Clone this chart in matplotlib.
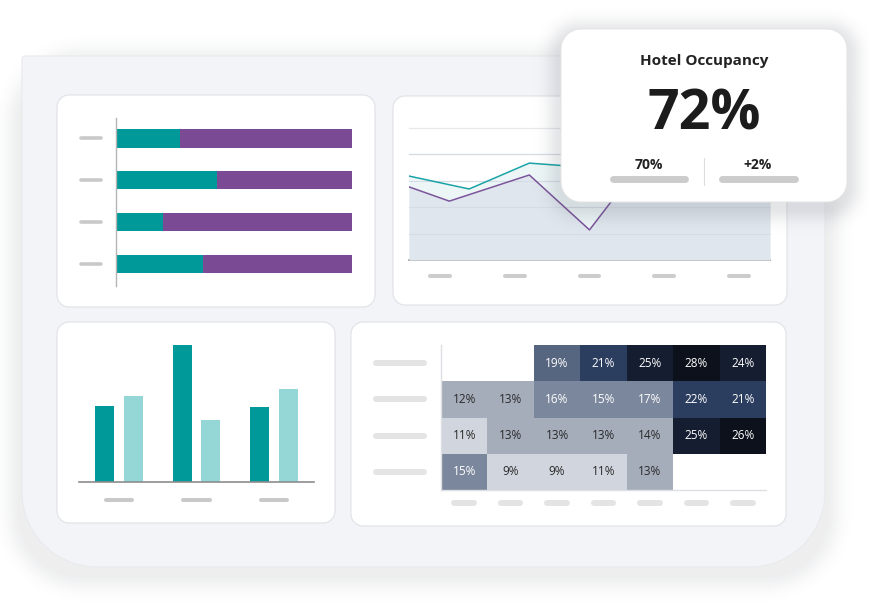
import numpy as np
import matplotlib
matplotlib.use("Agg")
import matplotlib.pyplot as plt
from matplotlib.patches import Polygon
from matplotlib.colors import ListedColormap, BoundaryNorm
from matplotlib.transforms import blended_transform_factory

plt.rcParams['font.family'] = ['Open Sans', 'DejaVu Sans']

# ---------------- data ----------------
hbar_rows = [0, 1, 2, 3]
hbar_teal = [27, 43, 20, 37]
hbar_purple = [73, 57, 80, 63]

line_teal_x = [0, 1, 2, 3, 4, 5, 6]
line_teal_y = [3.18, 2.69, 3.67, 3.5, 4.4, 4.0, 4.3]
line_purple_x = [0, 0.67, 2, 3, 4, 5, 6]
line_purple_y = [2.77, 2.23, 3.22, 1.14, 4.11, 3.6, 3.9]
line_grid_levels = [1, 2, 3, 4, 5]
line_tick_pos = [0.52, 1.76, 3.0, 4.24, 5.48]

col_groups = [0, 1, 2]
col_dark = [76, 137, 75]
col_light = [86, 62, 93]

heat_values = [
    [np.nan, np.nan, 19, 21, 25, 28, 24],
    [12, 13, 16, 15, 17, 22, 21],
    [11, 13, 13, 13, 14, 25, 26],
    [15, 9, 9, 11, 13, np.nan, np.nan],
]
heat_bounds = [0, 11.5, 14.5, 18, 20, 23.5, 25.5, 30]
heat_colors = ['#d1d5de', '#a5adbb', '#7b879c', '#576680', '#2c3e60', '#151d30', '#0d111b']

kpi_title = 'Hotel Occupancy'
kpi_value = '72%'
kpi_left = '70%'
kpi_right = '+2%'

# ---------------- styles ----------------
TEAL = '#009999'
PURPLE = '#7a4a94'
LTEAL = '#95d6d6'
W, H = 869, 610

fig = plt.figure(figsize=(W / 100, H / 100), dpi=100)
fig.patch.set_facecolor('white')


def px_axes(x0, y0, x1, y1, z):
    ax = fig.add_axes([x0 / W, 1 - y1 / H, (x1 - x0) / W, (y1 - y0) / H], zorder=z)
    ax.set_facecolor('none')
    return ax


def rr_points(x0, y0, x1, y1, rtl, rtr, rbr, rbl, n=24):
    pts = []
    def arc(cx, cy, r, t0, t1):
        t = np.linspace(t0, t1, n)
        return np.column_stack([cx + r * np.cos(t), cy + r * np.sin(t)])
    pts.append(arc(x0 + rtl, y0 + rtl, rtl, np.pi, 1.5 * np.pi))
    pts.append(arc(x1 - rtr, y0 + rtr, rtr, 1.5 * np.pi, 2 * np.pi))
    pts.append(arc(x1 - rbr, y1 - rbr, rbr, 0, 0.5 * np.pi))
    pts.append(arc(x0 + rbl, y1 - rbl, rbl, 0.5 * np.pi, np.pi))
    return np.vstack(pts)


def shadow_rgba(x0, y0, x1, y1, r, s, a, dy):
    X, Y = np.meshgrid(np.arange(W) + 0.5, np.arange(H) + 0.5)
    cx, cy = (x0 + x1) / 2, (y0 + y1) / 2 + dy
    hx, hy = (x1 - x0) / 2 - r, (y1 - y0) / 2 - r
    qx = np.abs(X - cx) - hx
    qy = np.abs(Y - cy) - hy
    d = np.hypot(np.maximum(qx, 0), np.maximum(qy, 0)) + np.minimum(np.maximum(qx, qy), 0) - r
    alpha = a * np.exp(-np.clip(d, 0, None) ** 2 / (2 * s ** 2))
    img = np.zeros((H, W, 4))
    img[..., 0] = 0.25
    img[..., 1] = 0.27
    img[..., 2] = 0.32
    img[..., 3] = alpha
    return img


# ---------------- background layer ----------------
bg = fig.add_axes([0, 0, 1, 1], zorder=0)
bg.set_xlim(0, W)
bg.set_ylim(H, 0)
bg.axis('off')

bg.imshow(shadow_rgba(22, 56, 825, 567, 60, 11, 0.09, 7), extent=(0, W, H, 0), zorder=0,
          interpolation='bilinear')
bg.add_patch(Polygon(rr_points(22, 56, 825, 567, 3, 3, 75, 75), closed=True,
                     facecolor='#f3f4f8', edgecolor='#e9eaee', lw=0.8, zorder=1))

panels = [(57, 95, 375, 307), (393, 96, 787, 305), (57, 322, 335, 523), (351, 322, 786, 526)]
for (x0, y0, x1, y1) in panels:
    bg.add_patch(Polygon(rr_points(x0, y0, x1, y1, 12, 12, 12, 12), closed=True,
                         facecolor='white', edgecolor='#e2e4e8', lw=0.9, zorder=2))

# ---------------- horizontal stacked bar ----------------
ax1 = px_axes(116, 118, 352, 286, 2)
ax1.barh(hbar_rows, hbar_teal, height=0.44, color=TEAL, edgecolor='none')
ax1.barh(hbar_rows, hbar_purple, left=hbar_teal, height=0.44, color=PURPLE, edgecolor='none')
ax1.set_xlim(0, 100)
ax1.set_ylim(3.53, -0.49)
for s in ['top', 'right', 'bottom']:
    ax1.spines[s].set_visible(False)
ax1.spines['left'].set_color('#b4b4b4')
ax1.spines['left'].set_linewidth(1.0)
ax1.set_xticks([])
ax1.set_yticks([])
for r in hbar_rows:
    ax1.plot([-15.0, -6.2], [r, r], color='#c9c9c9', lw=2.6, solid_capstyle='round', clip_on=False)

# ---------------- line chart ----------------
ax2 = px_axes(409, 128, 770, 260, 2)
ax2.set_xlim(0, 6)
ax2.set_ylim(0, 5)
for g in line_grid_levels:
    ax2.axhline(g, color='#e6e8ec', lw=0.9, zorder=1, clip_on=False)
ax2.fill_between(line_teal_x, 0, line_teal_y, color='#edf6f7', zorder=2, lw=0)
ax2.fill_between(line_purple_x, 0, line_purple_y, color='#e0e6ee', zorder=3, lw=0)
for g in line_grid_levels[:-1]:
    ax2.axhline(g, color='#d6dce5', lw=0.8, zorder=3.5)
ax2.plot(line_teal_x, line_teal_y, color='#1aa3a6', lw=1.1, zorder=4)
ax2.plot(line_purple_x, line_purple_y, color='#7b559b', lw=1.1, zorder=5)
for s in ['top', 'right', 'left']:
    ax2.spines[s].set_visible(False)
ax2.spines['bottom'].set_color('#9a9a9a')
ax2.spines['bottom'].set_linewidth(1.2)
ax2.set_xticks([])
ax2.set_yticks([])
tr2 = blended_transform_factory(ax2.transData, ax2.transAxes)
for p in line_tick_pos:
    ax2.plot([p - 0.166, p + 0.166], [-0.121, -0.121], transform=tr2, color='#cccccc',
             lw=2.9, solid_capstyle='round', clip_on=False)

# ---------------- column chart ----------------
ax3 = px_axes(79, 332, 314, 482, 2)
off = 0.187
bw = 0.245
ax3.bar([g - off for g in col_groups], col_dark, width=bw, color=TEAL, edgecolor='none')
ax3.bar([g + off for g in col_groups], col_light, width=bw, color=LTEAL, edgecolor='none')
ax3.set_xlim(-0.516, 2.516)
ax3.set_ylim(0, 150)
for s in ['top', 'right', 'left']:
    ax3.spines[s].set_visible(False)
ax3.spines['bottom'].set_color('#8c8c8c')
ax3.spines['bottom'].set_linewidth(1.2)
ax3.set_xticks([])
ax3.set_yticks([])
tr3 = blended_transform_factory(ax3.transData, ax3.transAxes)
for g in col_groups:
    ax3.plot([g - 0.168, g + 0.168], [-0.12, -0.12], transform=tr3, color='#c9c9c9',
             lw=2.9, solid_capstyle='round', clip_on=False)

# ---------------- heatmap ----------------
ax4 = px_axes(441, 345, 766, 490, 2)
arr = np.ma.masked_invalid(np.array(heat_values, dtype=float))
cmap = ListedColormap(heat_colors)
norm = BoundaryNorm(heat_bounds, cmap.N)
ax4.pcolormesh(np.arange(arr.shape[1] + 1), np.arange(arr.shape[0] + 1), arr,
               cmap=cmap, norm=norm, edgecolors='none')
ax4.set_xlim(0, arr.shape[1])
ax4.set_ylim(arr.shape[0], 0)
for i in range(arr.shape[0]):
    for j in range(arr.shape[1]):
        v = heat_values[i][j]
        if np.isnan(v):
            continue
        ax4.text(j + 0.5, i + 0.5, f'{v:.0f}%', ha='center', va='center', fontsize=8.5,
                 color='white' if v >= 15 else '#2a2a2a')
for s in ['top', 'right']:
    ax4.spines[s].set_visible(False)
for s in ['left', 'bottom']:
    ax4.spines[s].set_color('#dcdfe3')
    ax4.spines[s].set_linewidth(1.0)
ax4.set_xticks([])
ax4.set_yticks([])
tr4x = blended_transform_factory(ax4.transData, ax4.transAxes)
for j in range(arr.shape[1]):
    ax4.plot([j + 0.5 - 0.21, j + 0.5 + 0.21], [-0.09, -0.09], transform=tr4x,
             color='#e4e4e4', lw=4.3, solid_capstyle='round', clip_on=False)
for i in range(arr.shape[0]):
    ax4.plot([-1.4, -0.37], [i + 0.5, i + 0.5], color='#e4e4e4', lw=4.3,
             solid_capstyle='round', clip_on=False)

# ---------------- KPI card ----------------
fg = fig.add_axes([0, 0, 1, 1], zorder=10)
fg.set_facecolor('none')
fg.set_xlim(0, W)
fg.set_ylim(H, 0)
fg.axis('off')
fg.imshow(shadow_rgba(561, 29, 847, 202, 20, 10, 0.14, 5), extent=(0, W, H, 0), zorder=0,
          interpolation='bilinear')
fg.add_patch(Polygon(rr_points(561, 29, 847, 202, 20, 20, 20, 20), closed=True,
                     facecolor='white', edgecolor='#e4e4e4', lw=0.7, zorder=1))
cx = 704
fg.text(cx, 65.5, kpi_title, ha='center', va='baseline', fontsize=11, fontweight='bold',
        color='#222222', zorder=2)
fg.text(cx, 130, kpi_value, ha='center', va='baseline', fontsize=40, fontweight='bold',
        color='#1c1c1c', zorder=2)
fg.text(649, 169, kpi_left, ha='center', va='baseline', fontsize=10, fontweight='bold',
        color='#222222', zorder=2)
fg.text(758, 169, kpi_right, ha='center', va='baseline', fontsize=10, fontweight='bold',
        color='#222222', zorder=2)
fg.plot([612.5, 684.5], [179, 179], color='#cccccc', lw=5, solid_capstyle='round', zorder=2)
fg.plot([721.5, 794.5], [179, 179], color='#cccccc', lw=5, solid_capstyle='round', zorder=2)
fg.plot([704, 704], [158, 185], color='#dddddd', lw=0.8, zorder=2)

fig.savefig('out.png', dpi=100)
